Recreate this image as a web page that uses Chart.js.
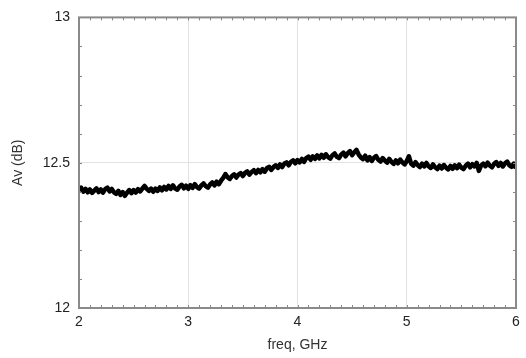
<!DOCTYPE html>
<html>
<head>
<meta charset="utf-8">
<script src="https://cdn.jsdelivr.net/npm/chart.js@4"></script>
<style>
  html, body { margin: 0; padding: 0; background: #fff; }
  #wrap { width: 526px; height: 358px; }
</style>
</head>
<body>
<div id="wrap"><canvas id="myChart" width="526" height="358"></canvas></div>
<script>
// frequency sweep 2..6 GHz, step 0.02
const freqStart = 2;
const freqStep = 0.02;

const gainDb = [
  12.405,12.414,12.400,12.410,12.398,12.408,12.396,12.404,12.412,12.399,
  12.408,12.397,12.409,12.414,12.401,12.410,12.398,12.393,12.403,12.389,
  12.399,12.386,12.397,12.406,12.395,12.406,12.397,12.409,12.401,12.411,
  12.420,12.410,12.403,12.411,12.400,12.411,12.403,12.415,12.405,12.417,
  12.408,12.420,12.410,12.422,12.411,12.407,12.418,12.424,12.412,12.421,
  12.410,12.423,12.413,12.426,12.416,12.411,12.422,12.429,12.419,12.414,
  12.425,12.432,12.422,12.435,12.426,12.438,12.448,12.461,12.450,12.444,
  12.454,12.460,12.449,12.459,12.464,12.454,12.465,12.470,12.459,12.468,
  12.474,12.464,12.475,12.467,12.478,12.469,12.481,12.486,12.475,12.485,
  12.491,12.482,12.494,12.485,12.497,12.501,12.491,12.503,12.508,12.498,
  12.509,12.501,12.513,12.503,12.516,12.521,12.510,12.522,12.513,12.525,
  12.515,12.527,12.517,12.529,12.519,12.514,12.526,12.532,12.520,12.516,
  12.528,12.535,12.522,12.533,12.540,12.526,12.536,12.544,12.528,12.518,
  12.512,12.524,12.508,12.519,12.506,12.517,12.523,12.510,12.504,12.516,
  12.507,12.500,12.513,12.503,12.496,12.508,12.498,12.511,12.501,12.494,
  12.506,12.522,12.497,12.490,12.502,12.492,12.485,12.497,12.487,12.499,
  12.488,12.482,12.494,12.484,12.478,12.490,12.480,12.492,12.483,12.477,
  12.489,12.479,12.491,12.481,12.493,12.483,12.478,12.490,12.497,12.484,
  12.495,12.487,12.499,12.472,12.490,12.497,12.488,12.500,12.490,12.484,
  12.496,12.502,12.489,12.499,12.487,12.498,12.504,12.491,12.486,12.497,
  12.481
];

const xTicks = [2, 3, 4, 5, 6];
const yTicks = [12, 12.5, 13];

const points = gainDb.map((v, i) => ({ x: +(freqStart + i * freqStep).toFixed(2), y: v }));

// frame + small inward ticks
const framePlugin = {
  id: 'frame',
  afterDatasetsDraw(chart) {
    const { ctx, chartArea: a, scales } = chart;
    ctx.save();
    ctx.strokeStyle = '#888';
    ctx.lineWidth = 1;
    for (let f = 2; f <= 6.0001; f += 0.1) {
      const px = Math.round(scales.x.getPixelForValue(f)) + 0.5;
      ctx.beginPath();
      ctx.moveTo(px, a.top); ctx.lineTo(px, a.top + 3);
      ctx.moveTo(px, a.bottom); ctx.lineTo(px, a.bottom - 3);
      ctx.stroke();
    }
    for (let v = 12; v <= 13.0001; v += 0.1) {
      const py = Math.round(scales.y.getPixelForValue(v)) + 0.5;
      ctx.beginPath();
      ctx.moveTo(a.left, py); ctx.lineTo(a.left + 3, py);
      ctx.moveTo(a.right, py); ctx.lineTo(a.right - 3, py);
      ctx.stroke();
    }
    ctx.lineWidth = 2;
    ctx.strokeStyle = '#8a8a8a';
    ctx.strokeRect(a.left, a.top, a.right - a.left, a.bottom - a.top);
    ctx.restore();
  }
};

const ctx = document.getElementById('myChart');

new Chart(ctx, {
  type: 'line',
  data: {
    datasets: [{
      data: points,
      borderColor: '#000',
      borderWidth: 4.5,
      pointRadius: 0,
      tension: 0,
      borderJoinStyle: 'round'
    }]
  },
  options: {
    responsive: false,
    animation: false,
    layout: { padding: { top: 14, right: 10, left: 0, bottom: 0 } },
    plugins: { legend: { display: false }, tooltip: { enabled: false } },
    scales: {
      x: {
        type: 'linear',
        min: 2, max: 6,
        afterBuildTicks: s => { s.ticks = xTicks.map(v => ({ value: v })); },
        afterFit: s => { s.height = 50; },
        grid: { color: '#e2e2e2', drawTicks: false },
        border: { display: false },
        ticks: { color: '#222', padding: 6, maxRotation: 0, font: { family: 'Liberation Sans', size: 14 } },
        title: { display: true, text: 'freq, GHz', color: '#333', padding: { top: 4 }, font: { family: 'Liberation Sans', size: 14 } }
      },
      y: {
        min: 12, max: 13,
        afterBuildTicks: s => { s.ticks = yTicks.map(v => ({ value: v })); },
        afterFit: s => { s.width = 79; },
        grid: { color: '#e2e2e2', drawTicks: false },
        border: { display: false },
        ticks: {
          color: '#222', padding: 9,
          font: { family: 'Liberation Sans', size: 14 },
          callback: v => String(v)
        },
        title: { display: true, text: 'Av (dB)', color: '#333', padding: { top: 10, bottom: 0 }, font: { family: 'Liberation Sans', size: 14 } }
      }
    }
  },
  plugins: [framePlugin]
});
</script>
</body>
</html>
